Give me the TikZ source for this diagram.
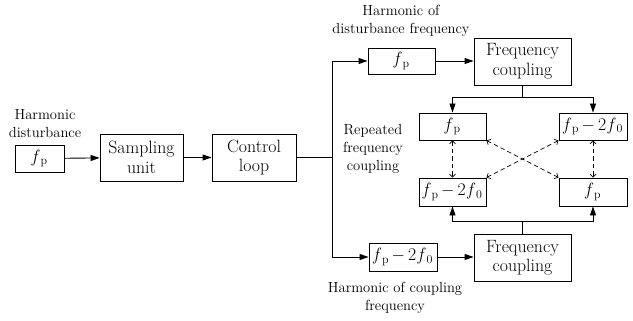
\documentclass[tikz,border=0pt]{standalone}
\usetikzlibrary{arrows.meta}
\newcommand{\fsb}[1]{\textit{f}\kern0.04em\raisebox{-0.35ex}{\fontsize{12}{12}\selectfont #1}}
\newcommand{\fpp}{\fsb{p}}
\newcommand{\fpm}{\fsb{p}\,$-$\,2\kern0.1em\fsb{0}}
\begin{document}
\begin{tikzpicture}[x=1pt,y=-1pt,
  box/.style={draw,line width=0.9pt,inner sep=0pt,align=center,font=\fontsize{17.8}{19.5}\selectfont},
  lab/.style={align=center,font=\fontsize{14.6}{18}\selectfont,inner sep=0pt},
  arr/.style={line width=0.9pt,-{Triangle[length=9pt,width=6pt]}},
  ln/.style={line width=0.9pt},
  darr/.style={line width=0.7pt,dash pattern=on 4.5pt off 3pt,{Straight Barb[length=3pt,width=6pt]}-{Straight Barb[length=3pt,width=6pt]}}]
\useasboundingbox (0,0) rectangle (633,321);
% left chain
\node[box,minimum width=49pt,minimum height=27pt] (in) at (39.5,158.5) {\fpp};
\node[lab] (inl) at (45,124) {Harmonic\\disturbance};
\node[box,minimum width=83pt,minimum height=47pt] (samp) at (141.5,157.5) {Sampling\\unit};
\node[box,minimum width=84pt,minimum height=47pt] (ctrl) at (254,157.5) {Control\\loop};
\coordinate (J) at (332,157.5);
% top branch
\node[box,minimum width=67pt,minimum height=26pt] (tf) at (401.5,61) {\fpp};
\node[lab] (tfl) at (401,21) {Harmonic of\\disturbance frequency};
\node[box,minimum width=97pt,minimum height=47pt] (fc1) at (522.5,61.5) {Frequency\\coupling};
% bottom branch
\node[box,minimum width=68pt,minimum height=28pt] (bf) at (403,257) {\fpm};
\node[lab] (bfl) at (395,297.5) {Harmonic of coupling\\frequency};
\node[box,minimum width=97pt,minimum height=47pt] (fc2) at (522.5,258) {Frequency\\coupling};
% cross boxes
\node[box,minimum width=67pt,minimum height=27pt] (tl) at (452.5,126.5) {\fpp};
\node[box,minimum width=68pt,minimum height=27pt] (tr) at (593,126.5) {\fpm};
\node[box,minimum width=67pt,minimum height=28pt] (bl) at (452.5,192) {\fpm};
\node[box,minimum width=68pt,minimum height=28pt] (br) at (593,192) {\fpp};
\node[lab] (rl) at (373,149) {Repeated\\frequency\\coupling};
% connectors
\draw[arr] (in) -- (samp);
\draw[arr] (samp) -- (ctrl);
\draw[ln] (ctrl.east) -- (J);
\draw[arr] (J) -- (J|-tf.west) -- (tf.west);
\draw[arr] (J) -- (J|-bf.west) -- (bf.west);
\draw[arr] (tf) -- (fc1.west|-tf);
\draw[arr] (bf) -- (fc2.west|-bf);
\coordinate (T) at (522,97);
\coordinate (B) at (522,221);
\draw[ln] (fc1.south-|T) -- (T);
\draw[arr] (T) -| (tl.north);
\draw[arr] (T) -| (tr.north);
\draw[ln] (fc2.north-|B) -- (B);
\draw[arr] (B) -| (bl.south);
\draw[arr] (B) -| (br.south);
\draw[darr] (tl.south) -- (bl.north);
\draw[darr] (tr.south) -- (br.north);
\draw[darr] (tl.south east) -- (br.north west);
\draw[darr] (bl.north east) -- (tr.south west);
\end{tikzpicture}
\end{document}
